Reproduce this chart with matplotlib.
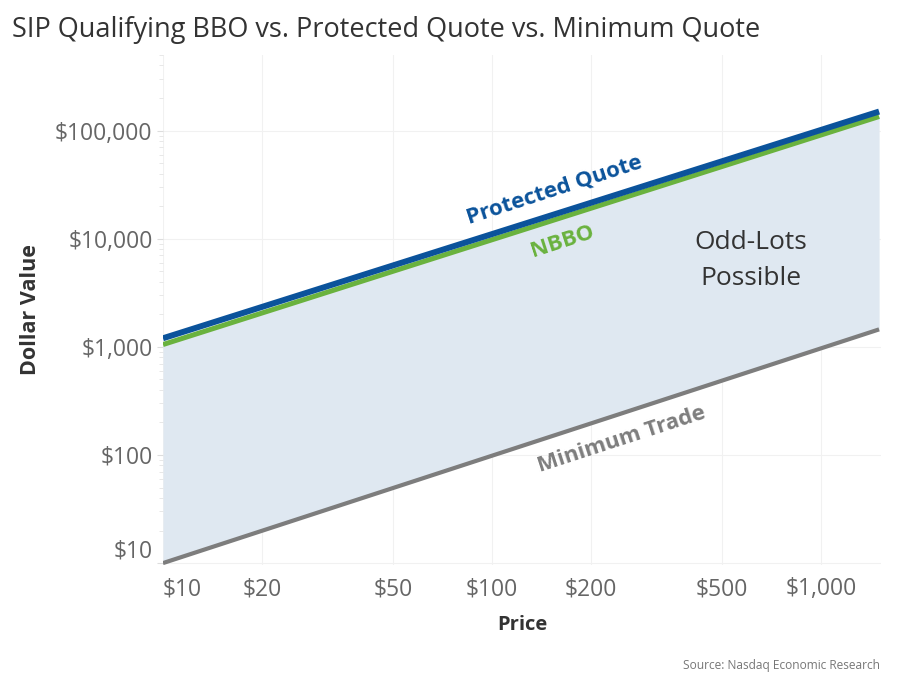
import numpy as np
import matplotlib.pyplot as plt
from matplotlib.ticker import FixedLocator, LogLocator, NullFormatter

# data (log-log, straight lines)
price = [10, 1500]
protected_quote = [1200, 150000]
nbbo = [1050, 135000]
minimum_trade = [10, 1450]

x_ticks = [10, 20, 50, 100, 200, 500, 1000]
x_labels = ['$10', '$20', '$50', '$100', '$200', '$500', '$1,000']
y_ticks = [10, 100, 1000, 10000, 100000]
y_labels = ['$10', '$100', '$1,000', '$10,000', '$100,000']

BLUE = '#0b539b'
GREEN = '#6ab23e'
GREY = '#7d7d7d'
FILL = '#dfe8f1'

plt.rcParams['font.family'] = ['Open Sans', 'DejaVu Sans']

fig = plt.figure(figsize=(8.99, 6.86), dpi=100)
ax = fig.add_axes([163/899, 1 - 565/686, (881 - 163)/899, (565 - 55)/686])

ax.set_xscale('log')
ax.set_yscale('log')
ax.set_xlim(10, 1520)
ax.set_ylim(9.6, 500000)

ax.fill_between(price, minimum_trade, nbbo, color=FILL, lw=0, zorder=1)
ax.plot(price, minimum_trade, color=GREY, lw=3.0, solid_capstyle='butt', zorder=3)
ax.plot(price, nbbo, color=GREEN, lw=3.6, solid_capstyle='butt', zorder=3)
ax.plot(price, protected_quote, color=BLUE, lw=4.3, solid_capstyle='butt', zorder=4)

# ticks and grid
ax.xaxis.set_major_locator(FixedLocator(x_ticks))
ax.set_xticklabels(x_labels)
ax.xaxis.set_minor_formatter(NullFormatter())
ax.xaxis.set_minor_locator(FixedLocator([]))
ax.yaxis.set_major_locator(FixedLocator(y_ticks))
ax.set_yticklabels(y_labels)
ax.yaxis.set_minor_locator(LogLocator(base=10, subs=np.arange(2, 10)))
ax.yaxis.set_minor_formatter(NullFormatter())

ax.tick_params(axis='both', which='major', labelsize=16.5, labelcolor='#666666',
               color='#dddddd', length=4, width=0.8)
ax.tick_params(axis='x', which='major', length=0, pad=9)
ax.tick_params(axis='y', which='minor', color='#e4e4e4', length=3, width=0.6)
ax.grid(True, which='major', color='#f1f1f1', lw=0.8, zorder=0)
ax.set_axisbelow(True)
for s in ax.spines.values():
    s.set_visible(False)

# Tableau nudges the edge labels inward
ax.get_xticklabels()[0].set_ha('left')
ax.get_yticklabels()[0].set_va('bottom')

ax.set_xlabel('Price', fontsize=14.5, fontweight='bold', color='#333333', labelpad=10)
ax.set_ylabel('Dollar Value', fontsize=15.5, fontweight='bold', color='#333333', labelpad=10)

# inline labels
ang = 18
ax.text(155, 28400, 'Protected Quote', color=BLUE, fontsize=16, fontweight='bold',
        rotation=ang, ha='center', va='center', rotation_mode='anchor')
ax.text(164, 9380, 'NBBO', color=GREEN, fontsize=16, fontweight='bold',
        rotation=ang, ha='center', va='center', rotation_mode='anchor')
ax.text(248, 138, 'Minimum Trade', color=GREY, fontsize=16, fontweight='bold',
        rotation=ang, ha='center', va='center', rotation_mode='anchor')
ax.text(612, 6300, 'Odd-Lots\nPossible', color='#333333', fontsize=19,
        ha='center', va='center', linespacing=1.55)

fig.text(12/899, 1 - 30/686, 'SIP Qualifying BBO vs. Protected Quote vs. Minimum Quote',
         fontsize=19.5, color='#333333', ha='left', va='center')
fig.text(880/899, 1 - 665/686, 'Source: Nasdaq Economic Research',
         fontsize=8.6, color='#777777', ha='right', va='center')

fig.savefig('out.png', dpi=100)
